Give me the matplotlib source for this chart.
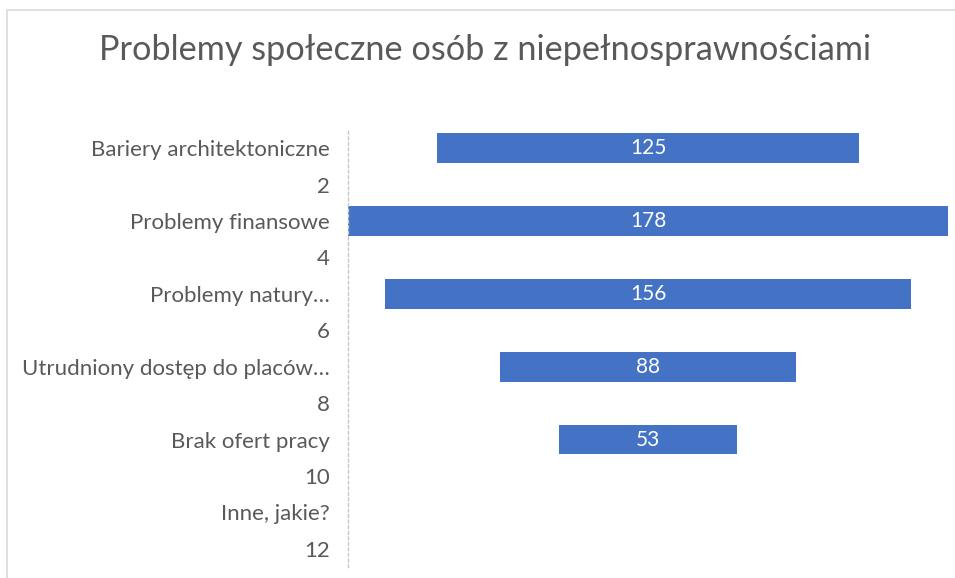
import numpy as np
import matplotlib.pyplot as plt
from matplotlib.patches import Rectangle

categories = ["Bariery architektoniczne", "2", "Problemy finansowe", "4",
              "Problemy natury…", "6", "Utrudniony dostęp do placów…", "8",
              "Brak ofert pracy", "10", "Inne, jakie?", "12"]
values = [125, None, 178, None, 156, None, 88, None, 53, None, None, None]

plt.rcParams['font.family'] = ['Lato', 'DejaVu Sans']

fig = plt.figure(figsize=(9.55, 5.78), dpi=100)
ax = fig.add_axes([348 / 955, 1 - 567 / 578, 600 / 955, 437 / 578])

fig.patches.append(Rectangle((7 / 955, -0.1), 1.1, 1 - 10 / 578 + 0.1,
                             transform=fig.transFigure, fill=False,
                             edgecolor='#d9d9d9', linewidth=1.2))

y = np.arange(len(categories))
for yi, v in zip(y, values):
    if v is None:
        continue
    ax.barh(yi, v, left=-v / 2, height=0.82, color='#4472c4')
    ax.text(0, yi, str(v), ha='center', va='center', color='white', fontsize=15)

ax.set_xlim(-89, 89)
ax.set_ylim(len(categories) - 0.5, -0.5)
ax.set_yticks(y)
ax.set_yticklabels(categories, fontsize=16, color='#595959')
ax.tick_params(axis='y', length=0, pad=13)
ax.set_xticks([])
for s in ['top', 'right', 'bottom']:
    ax.spines[s].set_visible(False)
ax.spines['left'].set_color('#c8c8c8')
ax.spines['left'].set_linestyle((0, (2, 2)))
ax.spines['left'].set_linewidth(1)

fig.text(485 / 955, 1 - 50 / 578, "Problemy społeczne osób z niepełnosprawnościami",
         ha='center', va='center', fontsize=24.7, color='#595959')

fig.savefig("out.png", dpi=100)
